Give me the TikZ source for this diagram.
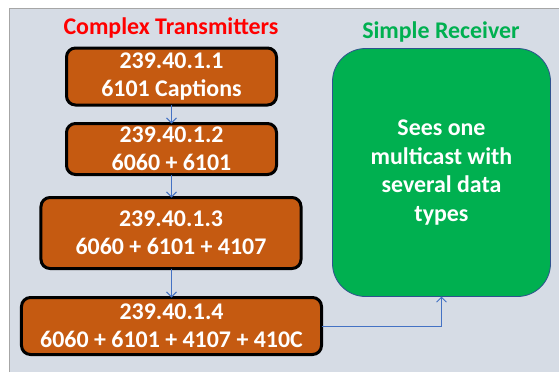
\documentclass[tikz,border=0pt]{standalone}
\usepackage{fontspec}
\setmainfont{Carlito}
\usetikzlibrary{arrows.meta}
\definecolor{panel}{HTML}{D6DCE5}
\definecolor{panelline}{HTML}{A6A6A6}
\definecolor{boxorange}{HTML}{C55A11}
\definecolor{boxgreen}{HTML}{00B050}
\definecolor{greenline}{HTML}{2F528F}
\definecolor{conncol}{HTML}{4472C4}
\definecolor{titlered}{HTML}{FF0000}
\tikzset{
  txbox/.style={draw=black, line width=3bp, fill=boxorange, rounded corners=9bp,
    text=white, font=\fontsize{24}{28.5}\selectfont\bfseries, align=center,
    inner sep=0pt, outer sep=0pt, execute at begin node={\rule{0pt}{20bp}}},
  rxbox/.style={draw=greenline, line width=0.8bp, fill=boxgreen, rounded corners=33bp,
    text=white, font=\fontsize{24}{29}\selectfont\bfseries, align=center,
    inner sep=0pt, outer sep=0pt, execute at begin node={\rule{0pt}{20bp}}},
  titletext/.style={font=\fontsize{24}{28}\selectfont\bfseries, inner sep=0pt},
  conn/.style={draw=conncol, line width=0.9bp, -{Straight Barb[length=5bp,width=10bp]}}
}
\begin{document}
\begin{tikzpicture}[x=1bp,y=-1bp]
\useasboundingbox (0,0) rectangle (559,372);
\fill[white] (0,0) rectangle (559,372);
\fill[panel] (9,8) rectangle (559,372);
\draw[panelline, line width=1bp] (9,372) -- (9,8) -- (559,8);

\node[titletext, text=titlered] (t1) at (171,28) {Complex Transmitters};
\node[titletext, text=boxgreen] (t2) at (441,32) {Simple Receiver};

\node[txbox, minimum width=210bp, minimum height=57bp] (b1) at (171.5,76.5) {239.40.1.1\\6101 Captions};
\node[txbox, minimum width=210bp, minimum height=51bp] (b2) at (171.5,149) {239.40.1.2\\6060 + 6101};
\node[txbox, minimum width=260bp, minimum height=71bp] (b3) at (171,233) {239.40.1.3\\6060 + 6101 + 4107};
\node[txbox, minimum width=300bp, minimum height=57bp] (b4) at (171.5,326) {239.40.1.4\\6060 + 6101 + 4107 + 410C};

\node[rxbox, minimum width=218bp, minimum height=248bp] (g) at (441.5,172.5) {Sees one\\multicast with\\several data\\types};

\draw[conn] (b1.south) -- (b2.north);
\draw[conn] (b2.south) -- (b3.north -| b2.south);
\draw[conn] (b3.south -| b2.south) -- (b4.north -| b2.south);
\draw[conn] (b4.east) -| (g.south);
\end{tikzpicture}
\end{document}
